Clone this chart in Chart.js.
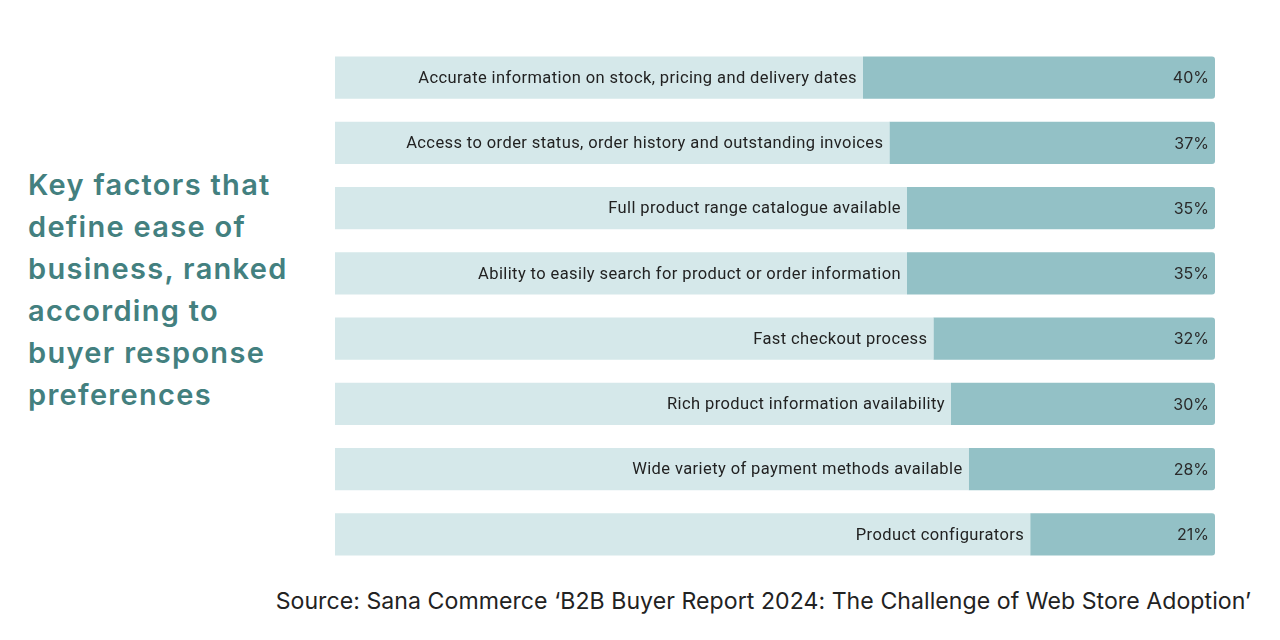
<!DOCTYPE html>
<html>
<head>
<meta charset="utf-8">
<script src="https://cdn.jsdelivr.net/npm/chart.js@4"></script>
<style>
html,body{margin:0;padding:0;background:#fff;width:1280px;height:640px;overflow:hidden;}
#title{position:absolute;left:28px;top:164px;width:300px;font-family:Inter,"Open Sans",sans-serif;font-weight:600;font-size:29px;line-height:42px;color:#43807f;letter-spacing:1.3px;white-space:nowrap;}
#source{position:absolute;right:29px;top:587px;font-family:Inter,"Open Sans",sans-serif;font-size:23.1px;letter-spacing:0.05px;color:#222;white-space:nowrap;}
#wrap{position:absolute;left:335px;top:45px;width:880px;height:522px;}
</style>
</head>
<body>
<div id="title">Key factors that<br>define ease of<br>business, ranked<br>according to<br>buyer response<br>preferences</div>
<div id="wrap"><canvas id="c"></canvas></div>
<div id="source">Source: Sana Commerce ‘B2B Buyer Report 2024: The Challenge of Web Store Adoption’</div>
<script>
const categories = [
  "Accurate information on stock, pricing and delivery dates",
  "Access to order status, order history and outstanding invoices",
  "Full product range catalogue available",
  "Ability to easily search for product or order information",
  "Fast checkout process",
  "Rich product information availability",
  "Wide variety of payment methods available",
  "Product configurators"
];
const values = [40, 37, 35, 35, 32, 30, 28, 21];
const totalScale = 100;
const remainder = values.map(v => totalScale - v);

const labelPlugin = {
  id: 'labels',
  afterDatasetsDraw(chart) {
    const ctx = chart.ctx;
    const metaDark = chart.getDatasetMeta(1);
    ctx.save();
    ctx.textBaseline = 'middle';
    metaDark.data.forEach((bar, i) => {
      const left = bar.base;
      const right = bar.x;
      ctx.fillStyle = '#222';
      ctx.font = '16.5px Roboto, sans-serif';
      ctx.letterSpacing = '0.4px';
      ctx.textAlign = 'right';
      ctx.fillText(categories[i], left - 6, bar.y + 1);
      ctx.letterSpacing = '0px';
      ctx.font = '16px Inter, sans-serif';
      ctx.fillStyle = '#2a2a2a';
      ctx.fillText(values[i] + '%', right - 6, bar.y + 1);
    });
    ctx.restore();
  }
};

new Chart(document.getElementById('c'), {
  type: 'bar',
  data: {
    labels: categories,
    datasets: [
      { data: remainder, backgroundColor: '#d5e8ea', borderWidth: 0, barPercentage: 0.645, categoryPercentage: 1 },
      { data: values, backgroundColor: '#93c1c6', borderWidth: 0, barPercentage: 0.645, categoryPercentage: 1,
        borderRadius: {topLeft:0, bottomLeft:0, topRight:3, bottomRight:3}, borderSkipped: false }
    ]
  },
  options: {
    indexAxis: 'y',
    responsive: true,
    maintainAspectRatio: false,
    animation: false,
    layout: { padding: 0 },
    plugins: { legend: { display: false }, tooltip: { enabled: false } },
    scales: {
      x: { stacked: true, min: 0, max: totalScale, display: false },
      y: { stacked: true, display: false }
    }
  },
  plugins: [labelPlugin]
});
</script>
</body>
</html>
